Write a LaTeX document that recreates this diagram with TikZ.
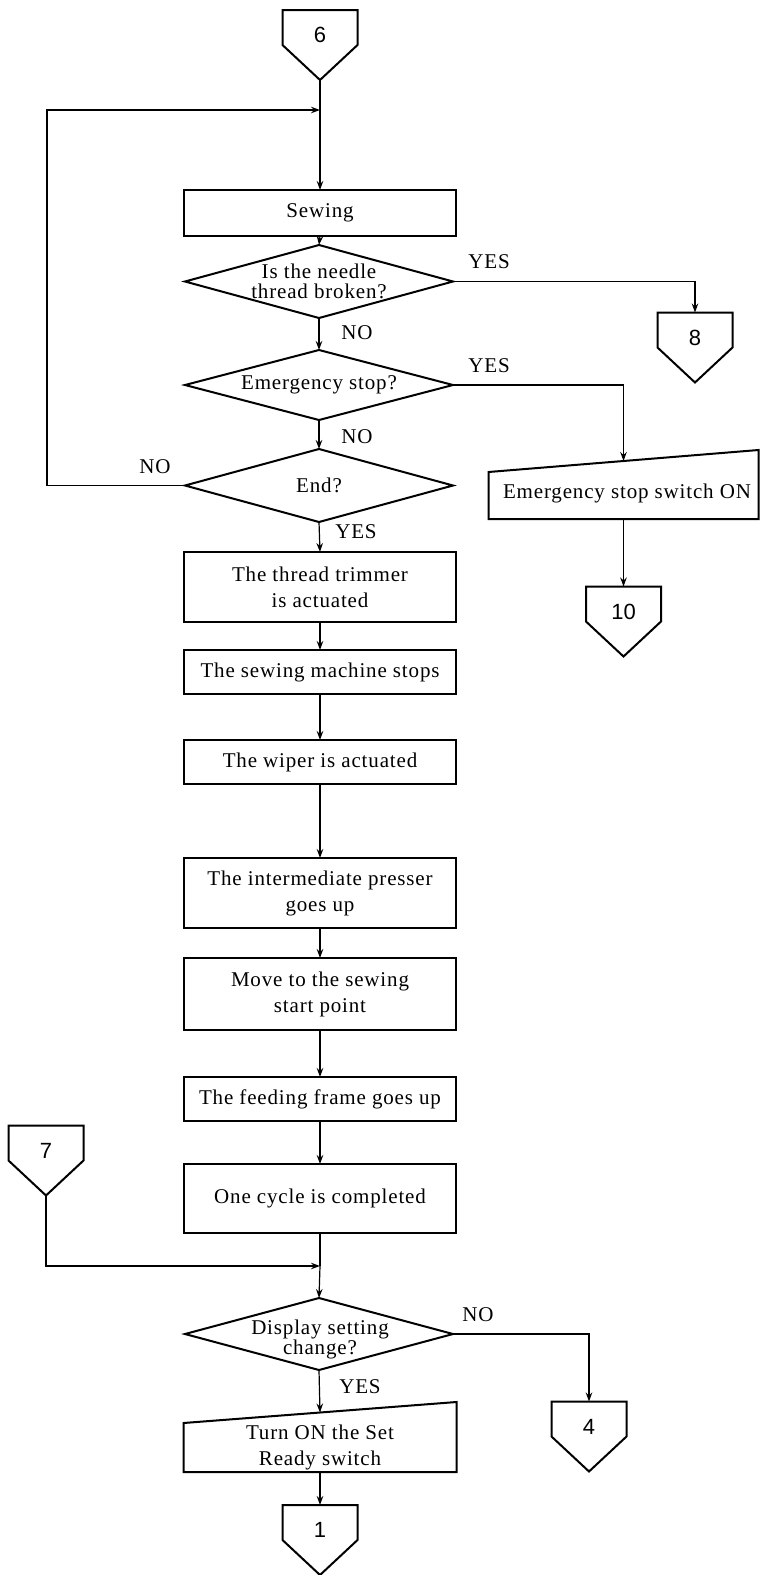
\documentclass[tikz,border=0pt]{standalone}
\usepackage{fontspec}
\setmainfont{Liberation Serif}[LetterSpace=4]
\newfontfamily\numfont{Liberation Sans}
\usetikzlibrary{arrows.meta,calc}

% off-page connector: pentagon pointing down, number in the upper half
\newcommand\offpage[4]{%
  \node[pagebox] (#1) at (#2,#3) {};
  \draw[outline] (#1.north west) -- (#1.north east) -- (#1.east) -- (#1.south) -- (#1.west) -- cycle;
  \node[numtext] (#1-num) at ([yshift=10pt]#1.center) {#4};
}

\begin{document}
\begin{tikzpicture}[x=1pt,y=-1pt,
  every node/.style={inner sep=0pt, outer sep=0pt},
  txt/.style={font=\fontsize{21}{26}\selectfont, align=center},
  dtxt/.style={font=\fontsize{21}{20}\selectfont, align=center},
  numtext/.style={font=\numfont\fontsize{22}{22}\selectfont},
  outline/.style={line width=2pt, line join=miter},
  procbox/.style={txt, draw, line width=2pt, minimum width=272pt},
  decbox/.style={dtxt, minimum width=268pt},
  pagebox/.style={minimum width=75pt, minimum height=70pt},
  flow/.style={line width=1.2pt, -{Stealth[length=9pt,width=6.5pt]}},
  plain/.style={line width=1.2pt},
]
\useasboundingbox (0,0) rectangle (760,1575);

% ---------- main column ----------
\offpage{c6}{320}{45}{6}
\coordinate (loopjoin) at (320,110);
\coordinate (loopcol) at (47,110);

\node[procbox, minimum height=46pt] (sew) at (320,213) {Sewing};

\node[decbox, minimum height=73pt] (d1) at (319,281.5) {Is the needle\\thread broken?};
\draw[outline] (d1.north) -- (d1.east) -- (d1.south) -- (d1.west) -- cycle;

\node[decbox, minimum height=70pt] (d2) at (319,385) {Emergency stop?};
\draw[outline] (d2.north) -- (d2.east) -- (d2.south) -- (d2.west) -- cycle;

\node[decbox, minimum height=73pt] (d3) at (319,485.5) {End?};
\draw[outline] (d3.north) -- (d3.east) -- (d3.south) -- (d3.west) -- cycle;

\node[procbox, minimum height=70pt] (trim) at (320,587) {The thread trimmer\\is actuated};
\node[procbox, minimum height=44pt] (stops) at (320,672) {The sewing machine stops};
\node[procbox, minimum height=44pt] (wiper) at (320,762) {The wiper is actuated};
\node[procbox, minimum height=70pt] (presser) at (320,893) {The intermediate presser\\goes up};
\node[procbox, minimum height=72pt] (move) at (320,994) {Move to the sewing\\start point};
\node[procbox, minimum height=44pt] (frame) at (320,1099) {The feeding frame goes up};
\node[procbox, minimum height=69pt] (cycle) at (320,1198.5) {One cycle is completed};

\offpage{c7}{46}{1160.5}{7}
\coordinate (join7) at (320,1266);

\node[decbox, minimum height=72pt] (d4) at (319,1334) {};
\draw[outline] (d4.north) -- (d4.east) -- (d4.south) -- (d4.west) -- cycle;
\node[dtxt] (d4text) at (320,1339) {Display setting\\change?};

% manual input: Turn ON the Set Ready switch
\node[minimum width=273pt, minimum height=70pt] (ton) at (320,1437) {};
\draw[outline] (ton.south west) -- (ton.south east) -- (ton.north east) -- ([yshift=-21pt]ton.north west) -- cycle;
\coordinate (tontop) at ($([yshift=-21pt]ton.north west)!0.5!(ton.north east)$);
\node[txt] (tontext) at (320,1447) {Turn ON the Set\\Ready switch};

\offpage{c1}{320}{1540}{1}

% ---------- right side ----------
\offpage{c8}{695}{347.5}{8}

% manual input: Emergency stop switch ON
\node[minimum width=270pt, minimum height=69pt] (em) at (623.5,484.5) {};
\draw[outline] (em.south west) -- (em.south east) -- (em.north east) -- ([yshift=-22pt]em.north west) -- cycle;
\coordinate (emtop) at ($([yshift=-22pt]em.north west)!0.5!(em.north east)$);
\node[txt] (emtext) at (627,493) {Emergency stop switch ON};

\offpage{c10}{623.5}{621.5}{10}
\offpage{c4}{589}{1436.5}{4}

% ---------- connectors ----------
\draw[plain] (c6.south) -- (loopjoin);
\draw[flow] (loopjoin) -- (sew.north);
\draw[flow] (sew.south) -- (d1.north);
\draw[flow] (d1.south) -- (d2.north);
\draw[flow] (d2.south) -- (d3.north);
\draw[flow] (d3.south) -- (trim.north);
\draw[flow] (trim.south) -- (stops.north);
\draw[flow] (stops.south) -- (wiper.north);
\draw[flow] (wiper.south) -- (presser.north);
\draw[flow] (presser.south) -- (move.north);
\draw[flow] (move.south) -- (frame.north);
\draw[flow] (frame.south) -- (cycle.north);
\draw[plain] (cycle.south) -- (join7);
\draw[flow] (join7) -- (d4.north);
\draw[flow] (d4.south) -- (tontop);
\draw[flow] (ton.south) -- (c1.north);

\draw[flow] (d3.west) -- (d3.west -| loopcol) |- (loopjoin);
\draw[flow] (d1.east) -| (c8.north);
\draw[flow] (d2.east) -| (emtop);
\draw[flow] (em.south) -- (c10.north);
\draw[flow] (c7.south) |- (join7);
\draw[flow] (d4.east) -| (c4.north);

% ---------- branch labels ----------
\node[txt] (l1yes) at (489,262) {YES};
\node[txt] (l1no) at (357,333) {NO};
\node[txt] (l2yes) at (489,366) {YES};
\node[txt] (l2no) at (357,437) {NO};
\node[txt] (l3no) at (155,467) {NO};
\node[txt] (l3yes) at (356,532) {YES};
\node[txt] (l4no) at (478,1315) {NO};
\node[txt] (l4yes) at (360,1387) {YES};
\end{tikzpicture}
\end{document}
